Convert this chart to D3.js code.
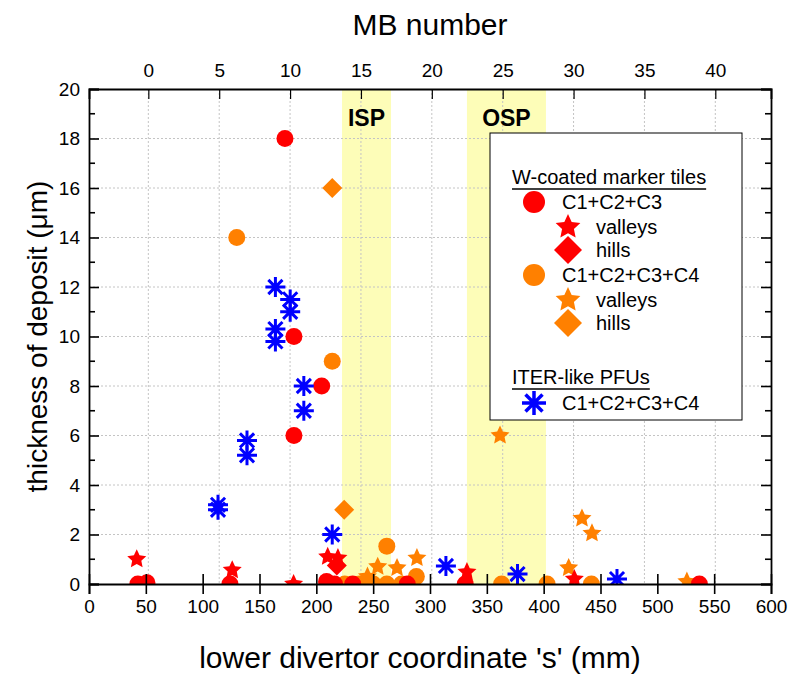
<!DOCTYPE html>
<html>
<head>
<meta charset="utf-8">
<script src="https://cdn.jsdelivr.net/npm/d3@7"></script>
<style>
  body { margin: 0; background: #fff; }
  svg text { font-family: "Liberation Sans", Arial, sans-serif; }
</style>
</head>
<body>
<div class="chart"></div>
<script>
// data: [s (mm), thickness (um)]
var redCircles = [[43,0],[51,0.05],[124,0],[172.4,18],[180.3,10],[204.7,8],[180.3,6],[209,0.1],[216,0],[232,0],[280,0],[331,0],[537,0]];
var redStars = [[42,1.0],[126,0.56],[180,0],[210,1.1],[219,1.05],[332.5,0.48],[427,0.2]];
var redHills = [[218,0.75]];
var orangeCircles = [[130,14],[214,9],[262,1.53],[225,0],[238,0],[250,0],[262,0],[275,0],[288,0.3],[363,0],[403,0],[442,0]];
var orangeStars = [[254,0.7],[271,0.65],[288.5,1.05],[245,0.3],[361.6,6],[433.7,2.65],[442.5,2.05],[422,0.65],[526,0.1]];
var orangeHills = [[214,16],[224.5,3.0]];
var pfuPoints = [[113.5,3.0],[113.5,3.2],[139,5.2],[139,5.8],[164,9.8],[164,10.3],[164,12],[177,11],[177,11.5],[189,7],[189,8],[214,2],[314,0.73],[377,0.4],[464.5,0.2]];

var bands = [{name: "ISP", from: 222.6, to: 265.7}, {name: "OSP", from: 332.5, to: 402}];
var xTicks = [0,50,100,150,200,250,300,350,400,450,500,550,600];
var yTicks = [0,2,4,6,8,10,12,14,16,18,20];
var mbTicks = [0,5,10,15,20,25,30,35,40];
// MB number -> s (mm): s = 52.2 + 12.47 * MB
var mbDomain = [(0 - 52.2) / 12.47, (600 - 52.2) / 12.47];

var svgWidth = 794;
var svgHeight = 675;
var margin = {top: 89, right: 23, bottom: 91, left: 89};
var width = svgWidth - margin.left - margin.right;
var height = svgHeight - margin.top - margin.bottom;

var RED = "#ff0000", ORANGE = "#ff8000", BLUE = "#0000ff";

var svg = d3.select(".chart").append("svg")
  .attr("width", svgWidth)
  .attr("height", svgHeight);

var g = svg.append("g")
  .attr("transform", "translate(" + margin.left + "," + margin.top + ")");

var x = d3.scaleLinear().domain([0, 600]).range([0, width]);
var y = d3.scaleLinear().domain([0, 20]).range([height, 0]);
var xTop = d3.scaleLinear().domain(mbDomain).range([0, width]);

g.append("defs").append("clipPath").attr("id", "clip")
  .append("rect").attr("width", width).attr("height", height);

// shaded strike point bands
g.selectAll(".band").data(bands).enter().append("rect")
  .attr("x", d => x(d.from))
  .attr("width", d => x(d.to) - x(d.from))
  .attr("y", 0)
  .attr("height", height)
  .attr("fill", "#fdfdb8");

// grid
g.selectAll(".hgrid").data(yTicks.slice(1, -1)).enter().append("line")
  .attr("x1", 0).attr("x2", width)
  .attr("y1", d => y(d)).attr("y2", d => y(d))
  .attr("stroke", "#c4c4c4").attr("stroke-dasharray", "2,2");
g.selectAll(".vgrid").data(mbTicks).enter().append("line")
  .attr("x1", d => xTop(d)).attr("x2", d => xTop(d))
  .attr("y1", 0).attr("y2", height)
  .attr("stroke", "#c4c4c4").attr("stroke-dasharray", "2,2");

g.selectAll(".bandlabel").data(bands).enter().append("text")
  .attr("x", d => (x(d.from) + x(d.to)) / 2)
  .attr("y", 37)
  .attr("text-anchor", "middle")
  .attr("font-size", "23px")
  .attr("font-weight", "bold")
  .text(d => d.name);

function starPath(R) {
  var pts = [];
  for (var i = 0; i < 10; i++) {
    var r = i % 2 === 0 ? R : R * 0.48;
    var a = -Math.PI / 2 + i * Math.PI / 5;
    pts.push([r * Math.cos(a), r * Math.sin(a)]);
  }
  return "M" + pts.map(p => p[0].toFixed(2) + "," + p[1].toFixed(2)).join("L") + "Z";
}
function diamondPath(h) {
  return "M0," + (-h) + "L" + h + ",0L0," + h + "L" + (-h) + ",0Z";
}
function asteriskPath(R) {
  var d = "";
  [90, 0, 45, 135].forEach(function(deg) {
    var a = deg * Math.PI / 180;
    var dx = R * Math.cos(a), dy = R * Math.sin(a);
    d += "M" + (-dx).toFixed(2) + "," + (-dy).toFixed(2) + "L" + dx.toFixed(2) + "," + dy.toFixed(2);
  });
  return d;
}

function drawMarks(parent, data, kind, color, size) {
  var sel = parent.append("g").selectAll("path").data(data).enter().append(kind === "circle" ? "circle" : "path");
  if (kind === "circle") {
    sel.attr("cx", d => x(d[0])).attr("cy", d => y(d[1])).attr("r", size).attr("fill", color);
  } else {
    var p = kind === "star" ? starPath(size) : kind === "diamond" ? diamondPath(size) : asteriskPath(size);
    sel.attr("transform", d => "translate(" + x(d[0]) + "," + y(d[1]) + ")").attr("d", p);
    if (kind === "asterisk") sel.attr("fill", "none").attr("stroke", color).attr("stroke-width", 3);
    else sel.attr("fill", color);
  }
}

var marks = g.append("g").attr("clip-path", "url(#clip)");
drawMarks(marks, orangeCircles, "circle", ORANGE, 8.5);
drawMarks(marks, orangeStars, "star", ORANGE, 10);
drawMarks(marks, orangeHills, "diamond", ORANGE, 10);
drawMarks(marks, redCircles, "circle", RED, 8.5);
drawMarks(marks, redStars, "star", RED, 10);
drawMarks(marks, redHills, "diamond", RED, 10);
drawMarks(marks, pfuPoints, "asterisk", BLUE, 10);

// axes
var bottomAxis = d3.axisBottom(x).tickValues(xTicks).tickSize(10).tickPadding(6);
var leftAxis = d3.axisLeft(y).tickValues(yTicks).tickSize(-10).tickPadding(9);
var topAxis = d3.axisTop(xTop).tickValues(mbTicks).tickSize(-10).tickPadding(12);
var rightAxis = d3.axisRight(y).tickValues(yTicks).tickSize(-10).tickFormat("");

var gx = g.append("g").attr("transform", "translate(0," + height + ")").call(bottomAxis);
gx.selectAll(".tick line").attr("y1", -10);
var gy = g.append("g").call(leftAxis);
var gt = g.append("g").call(topAxis);
var gr = g.append("g").attr("transform", "translate(" + width + ",0)").call(rightAxis);

[gx, gy, gt, gr].forEach(function(a) {
  a.selectAll("path.domain").attr("stroke-width", 1.8).attr("stroke", "#000");
  a.selectAll(".tick line").attr("stroke-width", 1.6);
  a.selectAll(".tick text").attr("font-size", "19px").attr("fill", "#000")
    .attr("font-family", "Liberation Sans, Arial, sans-serif");
});
gt.selectAll(".tick line").attr("stroke-width", 1.2);

// minor y ticks
var minorY = d3.range(1, 20, 2);
g.selectAll(".minl").data(minorY).enter().append("line")
  .attr("x1", 0).attr("x2", 6).attr("y1", d => y(d)).attr("y2", d => y(d))
  .attr("stroke", "#000").attr("stroke-width", 1.6);
g.selectAll(".minr").data(minorY).enter().append("line")
  .attr("x1", width - 6).attr("x2", width).attr("y1", d => y(d)).attr("y2", d => y(d))
  .attr("stroke", "#000").attr("stroke-width", 1.6);

// titles
svg.append("text")
  .attr("x", margin.left + width / 2 - 10)
  .attr("y", 668)
  .attr("text-anchor", "middle")
  .attr("font-size", "30px")
  .text("lower divertor coordinate 's' (mm)");

svg.append("text")
  .attr("x", 430)
  .attr("y", 35)
  .attr("text-anchor", "middle")
  .attr("font-size", "30px")
  .text("MB number");

svg.append("text")
  .attr("transform", "translate(47," + (margin.top + height / 2) + ") rotate(-90)")
  .attr("text-anchor", "middle")
  .attr("font-size", "28px")
  .text("thickness of deposit (\u03bcm)");

// legend
var lg = svg.append("g").attr("transform", "translate(490,133)");
lg.append("rect").attr("width", 252).attr("height", 287)
  .attr("fill", "#fff").attr("stroke", "#000").attr("stroke-width", 1);

var legendHeads = [{text: "W-coated marker tiles", y: 51}, {text: "ITER-like PFUs", y: 251}];
legendHeads.forEach(function(h) {
  var t = lg.append("text").attr("x", 22).attr("y", h.y).attr("font-size", "20px").text(h.text);
  var w = t.node().getComputedTextLength();
  lg.append("line").attr("x1", 22).attr("x2", 22 + w)
    .attr("y1", h.y + 5).attr("y2", h.y + 5).attr("stroke", "#000").attr("stroke-width", 1.5);
});

var legendItems = [
  {kind: "circle", color: RED, label: "C1+C2+C3", cy: 69, indent: 0},
  {kind: "star", color: RED, label: "valleys", cy: 94, indent: 1},
  {kind: "diamond", color: RED, label: "hills", cy: 117, indent: 1},
  {kind: "circle", color: ORANGE, label: "C1+C2+C3+C4", cy: 142, indent: 0},
  {kind: "star", color: ORANGE, label: "valleys", cy: 167, indent: 1},
  {kind: "diamond", color: ORANGE, label: "hills", cy: 190, indent: 1},
  {kind: "asterisk", color: BLUE, label: "C1+C2+C3+C4", cy: 270, indent: 0}
];
legendItems.forEach(function(it) {
  var sx = it.indent ? 78 : 44;
  var tx = it.indent ? 106 : 72;
  if (it.kind === "circle") {
    lg.append("circle").attr("cx", sx).attr("cy", it.cy).attr("r", 11).attr("fill", it.color);
  } else if (it.kind === "asterisk") {
    lg.append("path").attr("transform", "translate(" + sx + "," + it.cy + ")").attr("d", asteriskPath(12))
      .attr("fill", "none").attr("stroke", it.color).attr("stroke-width", 3.5);
  } else {
    lg.append("path").attr("transform", "translate(" + sx + "," + it.cy + ")")
      .attr("d", it.kind === "star" ? starPath(13) : diamondPath(14)).attr("fill", it.color);
  }
  lg.append("text").attr("x", tx).attr("y", it.cy + 7).attr("font-size", "20px").text(it.label);
});
</script>
</body>
</html>
